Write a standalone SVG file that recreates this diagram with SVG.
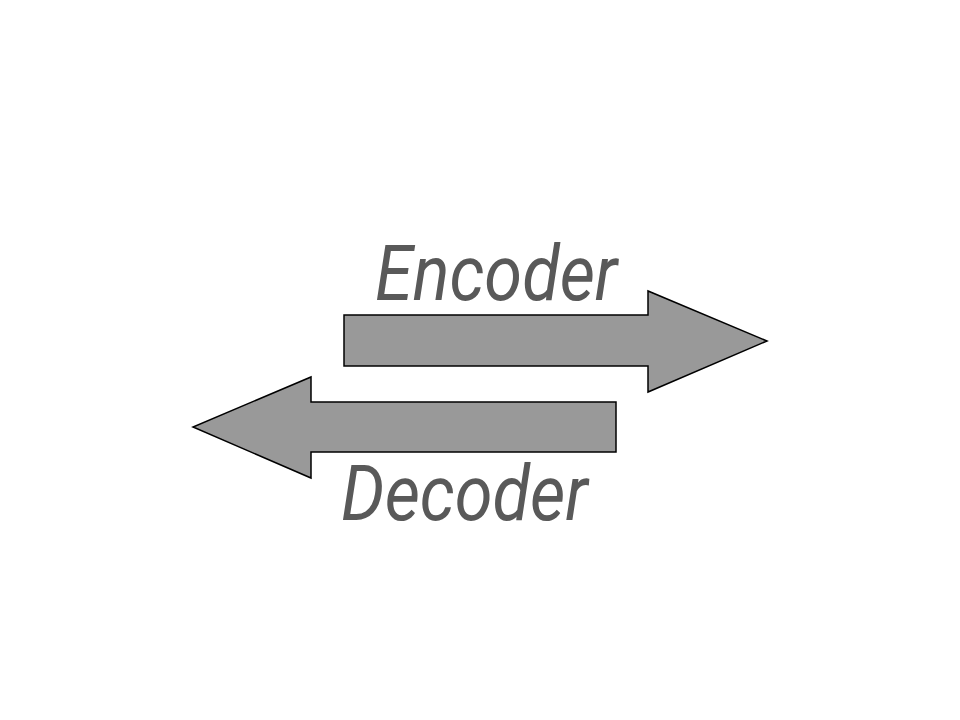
<svg xmlns="http://www.w3.org/2000/svg" width="960" height="720" viewBox="0 0 960 720">
<style>
.arrow{fill:#999999;stroke:#000000;stroke-width:1.5;stroke-linejoin:miter}
.lbl{font-family:Roboto,"Liberation Sans",sans-serif;font-style:italic;font-size:77px;fill:#595959}
</style>
<rect width="960" height="720" fill="#ffffff"/>
<g id="encoder">
<polygon class="arrow" points="344,315 648,315 648,291 767,341 648,392 648,366 344,366"/>
<text class="lbl" transform="translate(375,300) scale(0.89,1)" x="0" y="0">Encoder</text>
</g>
<g id="decoder">
<polygon class="arrow" points="616,402 311,402 311,377 193,427 311,478 311,452 616,452"/>
<text class="lbl" transform="translate(341,520) scale(0.89,1)" x="0" y="0">Decoder</text>
</g>
<g id="connectors"></g>
</svg>
